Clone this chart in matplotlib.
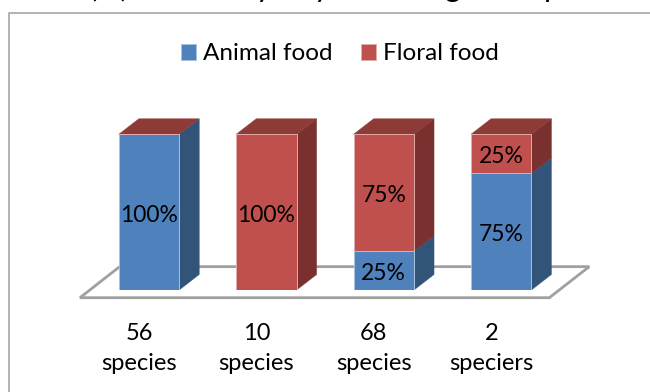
import matplotlib
matplotlib.use('Agg')
import matplotlib.pyplot as plt
from matplotlib.patches import Polygon

plt.rcParams['font.family'] = ['Lato', 'DejaVu Sans']

# Daten
categories = ['56\nspecies', '10\nspecies', '68\nspecies', '2\nspeciers']
animal_food = [100, 0, 25, 75]
floral_food = [0, 100, 75, 25]

# Farben
blue = '#4F81BD'
blue_side = '#325479'
blue_edge = '#A9C2DF'
red = '#C0504D'
red_side = '#7A302E'
red_top = '#8E3B38'
red_edge = '#E0ADAB'
floor_line = '#A0A0A0'

W, H = 650, 392
fig = plt.figure(figsize=(W / 100, H / 100), dpi=100, facecolor='white')

# Rahmen des Diagramms, rechts und unten abgeschnitten
fig.add_artist(plt.Line2D([8.5 / W, 8.5 / W, 1], [0, 1 - 12.5 / H, 1 - 12.5 / H],
                          color='#A6A6A6', lw=1.2))

# Achse: x = Kategorie, y = Prozent
ax = fig.add_axes([90.3 / W, (H - 290) / H, 469.6 / W, 155.7 / H])
ax.set_xlim(-0.5, 3.5)
ax.set_ylim(0, 100)
for s in ax.spines.values():
    s.set_visible(False)
ax.patch.set_alpha(0)
ax.tick_params(length=0)
ax.set_yticks([])

bar_w = 0.515
dx = 20 / 117.4    # Tiefe in Kategorien
dy = 15.5 / 1.557  # Tiefe in Prozent

# Boden
ax.add_patch(Polygon([(-0.588, -4.95), (3.41, -4.95), (3.75, 15), (-0.25, 15)],
                     closed=True, facecolor='white', edgecolor=floor_line,
                     lw=2, clip_on=False, zorder=1))


def side_face(x, y0, y1, color):
    pts = [(x + bar_w / 2, y0), (x + bar_w / 2 + dx, y0 + dy),
           (x + bar_w / 2 + dx, y1 + dy), (x + bar_w / 2, y1)]
    ax.add_patch(Polygon(pts, closed=True, facecolor=color, edgecolor=color,
                         lw=0.3, clip_on=False, zorder=2))


def value_label(x, y, value):
    ax.annotate(f'{value}%', (x, y), xytext=(0, -2.2), textcoords='offset points',
                ha='center', va='center', fontsize=16.5, color='black', zorder=4)


for i, (a, f) in enumerate(zip(animal_food, floral_food)):
    if a:
        side_face(i, 0, a, blue_side)
    if f:
        side_face(i, a, a + f, red_side)
    top = a + f
    ax.add_patch(Polygon([(i - bar_w / 2, top), (i + bar_w / 2, top),
                          (i + bar_w / 2 + dx, top + dy), (i - bar_w / 2 + dx, top + dy)],
                         closed=True, facecolor=red_top, edgecolor=red_top, lw=0.3,
                         clip_on=False, zorder=2))

xs = list(range(len(categories)))
ax.bar(xs, animal_food, bar_w, color=blue, edgecolor=blue_edge, lw=0.7, zorder=3,
       label='Animal food')
ax.bar(xs, floral_food, bar_w, bottom=animal_food, color=red, edgecolor=red_edge, lw=0.7,
       zorder=3, label='Floral food')

# Prozentwerte
for i, (a, f) in enumerate(zip(animal_food, floral_food)):
    if a:
        value_label(i, a / 2, a)
    if f:
        value_label(i, a + f / 2, f)

# Beschriftung sitzt unter der Bodenmitte, nicht unter der Balkenmitte
ax.set_xticks([x - 0.085 for x in xs])
ax.set_xticklabels(categories, fontsize=17, color='black', linespacing=1.5)
ax.tick_params(axis='x', pad=24)

# Legende
handles, labels = ax.get_legend_handles_labels()
fig.legend(handles, labels, ncol=2, frameon=False, fontsize=17.5,
           loc='center', bbox_to_anchor=(340 / W, 1 - 54 / H),
           handlelength=0.62, handleheight=0.62, handletextpad=0.3, columnspacing=1.15)

# Angeschnittene Titelzeile am oberen Rand
for x, s in [(109, '(%)'), (264, 'y'), (322, 'y'), (453, 'g'), (552, 'p')]:
    fig.text(x / W, 1 + 3.5 / H, s, fontsize=22, color='black', va='baseline', ha='center')

fig.savefig('out.png', dpi=100, facecolor='white')
